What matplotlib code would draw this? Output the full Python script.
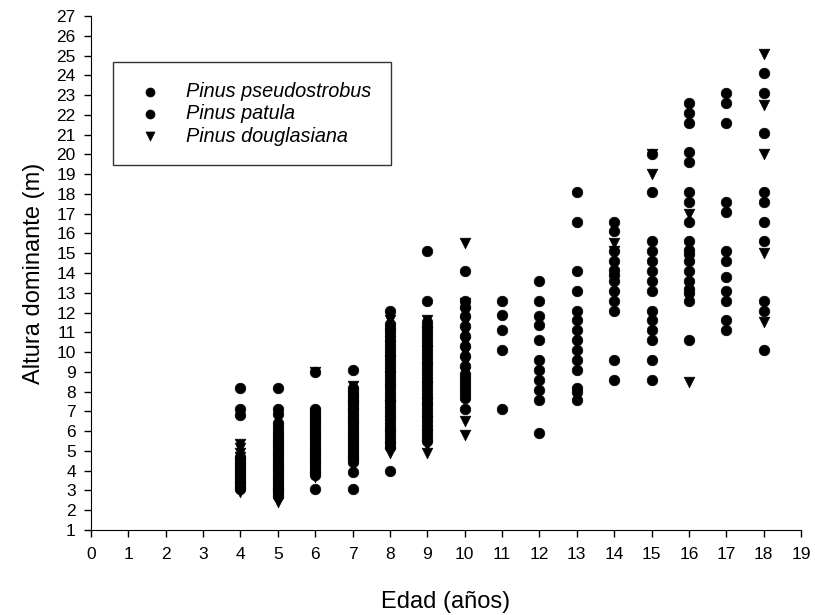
import matplotlib.pyplot as plt

plt.rcParams['font.family'] = ['Liberation Sans', 'DejaVu Sans']

# Altura dominante (m) por edad (años), una lista por edad
# Pinus pseudostrobus (circulos)
pseudostrobus = {
    4: [8.2, 7.1, 6.8, 4.7, 4.55, 4.4, 4.25, 4.1, 3.95, 3.8, 3.65, 3.5, 3.35, 3.2, 3.05],
    5: [8.2, 7.1, 6.85, 6.4, 6.2, 6.0, 5.85, 5.7, 5.55, 5.4, 5.25, 5.1, 4.95, 4.8, 4.65,
        4.5, 4.35, 4.2, 4.05, 3.9, 3.75, 3.6, 3.45, 3.3, 3.15, 3.0, 2.85, 2.7],
    6: [7.1, 6.95, 6.8, 6.65, 6.5, 6.35, 6.2, 6.05, 5.9, 5.75, 5.6, 5.45, 5.3, 5.15,
        5.0, 4.85, 4.7, 4.55, 4.4, 4.25, 4.1, 3.95, 3.8, 3.05],
    7: [9.1, 8.2, 8.05, 7.9, 7.75, 7.6, 7.45, 7.3, 7.15, 7.0, 6.85, 6.7, 6.55, 6.4,
        6.25, 6.1, 5.95, 5.8, 5.65, 5.5, 5.35, 5.2, 5.05, 4.9, 4.75, 4.6, 4.45, 3.95, 3.05],
    8: [12.1, 11.4, 11.2, 11.0, 10.8, 10.6, 10.4, 10.2, 10.0, 9.8, 9.6, 9.4, 9.2, 9.0,
        8.8, 8.6, 8.4, 8.2, 8.0, 7.8, 7.6, 7.4, 7.2, 7.0, 6.8, 6.6, 6.4, 6.2, 6.0, 5.8,
        5.6, 5.4, 5.2, 4.0],
    9: [15.1, 12.6, 11.5, 11.3, 11.1, 10.9, 10.7, 10.5, 10.3, 10.1, 9.9, 9.7, 9.5, 9.3,
        9.1, 8.9, 8.7, 8.5, 8.3, 8.1, 7.9, 7.7, 7.5, 7.3, 7.1, 6.9, 6.7, 6.5, 6.3, 6.1,
        5.9, 5.7, 5.5],
    10: [14.1, 12.6, 12.3, 11.8, 11.3, 10.8, 10.3, 9.8, 9.3, 8.9, 8.7, 8.5, 8.3, 8.1,
         7.9, 7.7, 7.1],
    16: [22.6, 22.1, 21.6, 20.1, 19.6, 18.1, 17.6, 16.6, 15.6],
    17: [23.1, 22.6, 21.6, 17.6, 17.1, 15.1],
    18: [24.1, 23.1, 21.1, 18.1, 17.6],
}

# Pinus patula (circulos)
patula = {
    6: [9.0],
    11: [12.6, 11.9, 11.1, 10.1, 7.1],
    12: [13.6, 12.6, 11.85, 11.35, 10.6, 9.6, 9.1, 8.6, 8.1, 7.6, 5.9],
    13: [18.1, 16.6, 14.1, 13.1, 12.1, 11.6, 11.1, 10.6, 10.1, 9.6, 9.1, 8.2, 8.0, 7.6],
    14: [16.6, 16.1, 15.1, 14.6, 14.15, 13.9, 13.6, 13.1, 12.6, 12.1, 9.6, 8.6],
    15: [20.0, 18.1, 15.6, 15.1, 14.6, 14.1, 13.6, 13.1, 12.1, 11.6, 11.1, 10.6, 9.6, 8.6],
    16: [15.15, 14.95, 14.6, 14.1, 13.6, 13.2, 13.0, 12.6, 10.6],
    17: [14.6, 13.8, 13.1, 12.6, 11.6, 11.1],
    18: [16.6, 15.6, 12.6, 12.1, 10.1],
}

# Pinus douglasiana (triangulos)
douglasiana = {
    4: [5.35, 5.15, 4.9, 4.7, 4.4, 4.1, 3.8, 3.5, 3.2, 2.9],
    5: [5.0, 4.6, 4.2, 3.8, 3.4, 3.0, 2.7, 2.4],
    6: [9.0, 6.9, 6.2, 5.5, 4.8, 4.2, 3.7],
    7: [8.3, 7.6, 6.9, 6.2, 5.5, 4.8, 4.4],
    8: [11.6, 10.9, 10.3, 9.6, 8.8, 8.1, 7.3, 6.5, 5.8, 5.2, 4.9],
    9: [11.6, 11.0, 10.1, 9.2, 8.3, 7.4, 6.5, 5.8, 5.3, 4.9],
    10: [15.5, 12.5, 12.0, 11.5, 11.0, 10.5, 10.0, 9.5, 9.0, 6.5, 5.8],
    14: [15.5, 15.1],
    15: [20.0, 19.0],
    16: [17.0, 8.5],
    18: [25.1, 22.5, 20.0, 15.0, 11.5],
}

series = [
    ('Pinus pseudostrobus', pseudostrobus, 'o'),
    ('Pinus patula', patula, 'o'),
    ('Pinus douglasiana', douglasiana, 'v'),
]

fig = plt.figure(figsize=(8.15, 6.15), dpi=100)
ax = fig.add_axes([0.1117, 0.1382, 0.8711, 0.8358])

for name, datos, marca in series:
    xs, ys = [], []
    for edad, alturas in datos.items():
        xs += [edad] * len(alturas)
        ys += alturas
    ax.scatter(xs, ys, marker=marca, s=58, c='black', edgecolors='black',
               linewidths=0.5, label=name, zorder=3)

ax.set_xlim(0, 19)
ax.set_ylim(1, 27)
ax.set_xticks(range(0, 20))
ax.set_yticks(range(1, 28))
ax.spines['top'].set_visible(False)
ax.spines['right'].set_visible(False)
ax.tick_params(direction='out', length=5, width=1, labelsize=12.5)
ax.tick_params(axis='y', pad=6)
ax.tick_params(axis='x', pad=7)

ax.set_xlabel('Edad (años)', fontsize=17, labelpad=21)
ax.set_ylabel('Altura dominante (m)', fontsize=17, labelpad=8)

leg = ax.legend(loc='upper left', bbox_to_anchor=(0.031, 0.9105),
                prop={'style': 'italic', 'size': 14.3}, frameon=True,
                fancybox=False, edgecolor='black', borderpad=1.0,
                labelspacing=0.17, handlelength=1.72, handletextpad=0.96,
                borderaxespad=0, scatterpoints=1, markerscale=0.85)
leg.get_frame().set_linewidth(1)

fig.savefig('out.png', dpi=100)
